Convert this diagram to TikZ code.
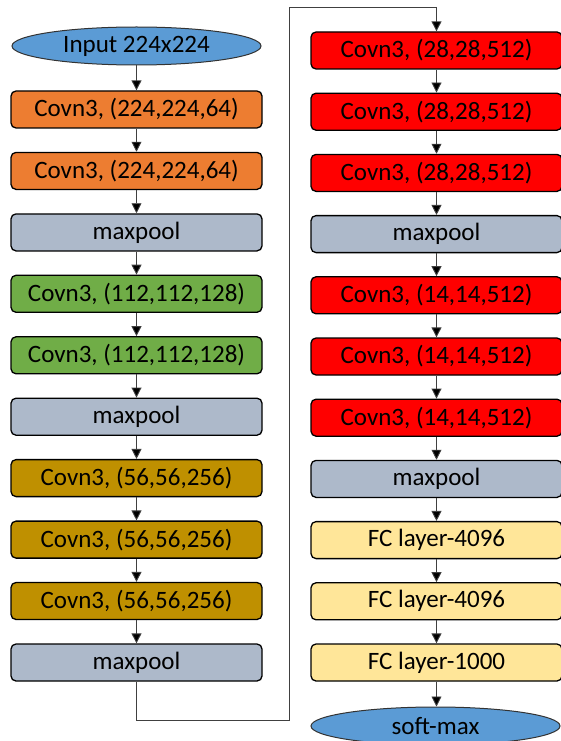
\documentclass[tikz,border=0pt]{standalone}
\usepackage{fontspec}
\setmainfont{Carlito}
\usetikzlibrary{arrows.meta,shapes.geometric}
\definecolor{corange}{HTML}{ED7D31}
\definecolor{cgreen}{HTML}{70AD47}
\definecolor{cgold}{HTML}{BF9000}
\definecolor{cgrey}{HTML}{ADB9CA}
\definecolor{cred}{HTML}{FF0000}
\definecolor{cyellow}{HTML}{FFE699}
\definecolor{cblue}{HTML}{5B9BD5}
\definecolor{cline}{HTML}{404040}
\begin{document}
\begin{tikzpicture}[x=1pt,y=-1pt,
  layer/.style={draw=black,line width=1.3pt,rounded corners=5pt,minimum width=251pt,minimum height=37pt,inner sep=0pt,font=\fontsize{25}{29}\selectfont,text=black},
  ovalbox/.style={ellipse,draw=black!80,line width=1pt,fill=cblue,minimum width=249pt,minimum height=38pt,inner sep=0pt,font=\fontsize{25}{29}\selectfont,text=black},
  conv/.style={draw=cline,line width=0.9pt,-{Triangle[width=10pt,length=10pt,fill=black]}},
  plain/.style={draw=cline,line width=0.9pt}]
\useasboundingbox (0,0) rectangle (560,741);
% left column
\node[ovalbox] (in) at (136.5,46) {Input 224x224};
\node[layer,fill=corange] (l1) at (136.5,109.5) {Covn3, (224,224,64)};
\node[layer,fill=corange] (l2) at (136.5,170.9) {Covn3, (224,224,64)};
\node[layer,fill=cgrey] (l3) at (136.5,232.4) {maxpool};
\node[layer,fill=cgreen] (l4) at (136.5,293.8) {Covn3, (112,112,128)};
\node[layer,fill=cgreen] (l5) at (136.5,355.3) {Covn3, (112,112,128)};
\node[layer,fill=cgrey] (l6) at (136.5,416.7) {maxpool};
\node[layer,fill=cgold] (l7) at (136.5,478.1) {Covn3, (56,56,256)};
\node[layer,fill=cgold] (l8) at (136.5,539.6) {Covn3, (56,56,256)};
\node[layer,fill=cgold] (l9) at (136.5,601.0) {Covn3, (56,56,256)};
\node[layer,fill=cgrey] (l10) at (136.5,662.5) {maxpool};
% right column
\node[layer,fill=cred] (r1) at (436.5,50.5) {Covn3, (28,28,512)};
\node[layer,fill=cred] (r2) at (436.5,111.7) {Covn3, (28,28,512)};
\node[layer,fill=cred] (r3) at (436.5,172.9) {Covn3, (28,28,512)};
\node[layer,fill=cgrey] (r4) at (436.5,234.1) {maxpool};
\node[layer,fill=cred] (r5) at (436.5,295.3) {Covn3, (14,14,512)};
\node[layer,fill=cred] (r6) at (436.5,356.5) {Covn3, (14,14,512)};
\node[layer,fill=cred] (r7) at (436.5,417.7) {Covn3, (14,14,512)};
\node[layer,fill=cgrey] (r8) at (436.5,478.9) {maxpool};
\node[layer,fill=cyellow] (r9) at (436.5,540.1) {FC layer-4096};
\node[layer,fill=cyellow] (r10) at (436.5,601.3) {FC layer-4096};
\node[layer,fill=cyellow] (r11) at (436.5,662.5) {FC layer-1000};
\node[ovalbox] (out) at (435.5,726) {soft-max};
% connectors
\foreach \a/\b in {in/l1,l1/l2,l2/l3,l3/l4,l4/l5,l5/l6,l6/l7,l7/l8,l8/l9,l9/l10,
                   r1/r2,r2/r3,r3/r4,r4/r5,r5/r6,r6/r7,r7/r8,r8/r9,r9/r10,r10/r11}
  \draw[conv] (\a.south) -- (\b.north);
\draw[conv] (r11.south) -- (r11.south |- out.north);
\coordinate (c1) at (136.5,720);
\coordinate (c2) at (289,720);
\coordinate (c3) at (289,7);
\coordinate (c4) at (436.5,7);
\draw[plain] (l10.south) -- (c1) -- (c2) -- (c3) -- (c4);
\draw[conv] (c4) -- (r1.north);
\end{tikzpicture}
\end{document}
